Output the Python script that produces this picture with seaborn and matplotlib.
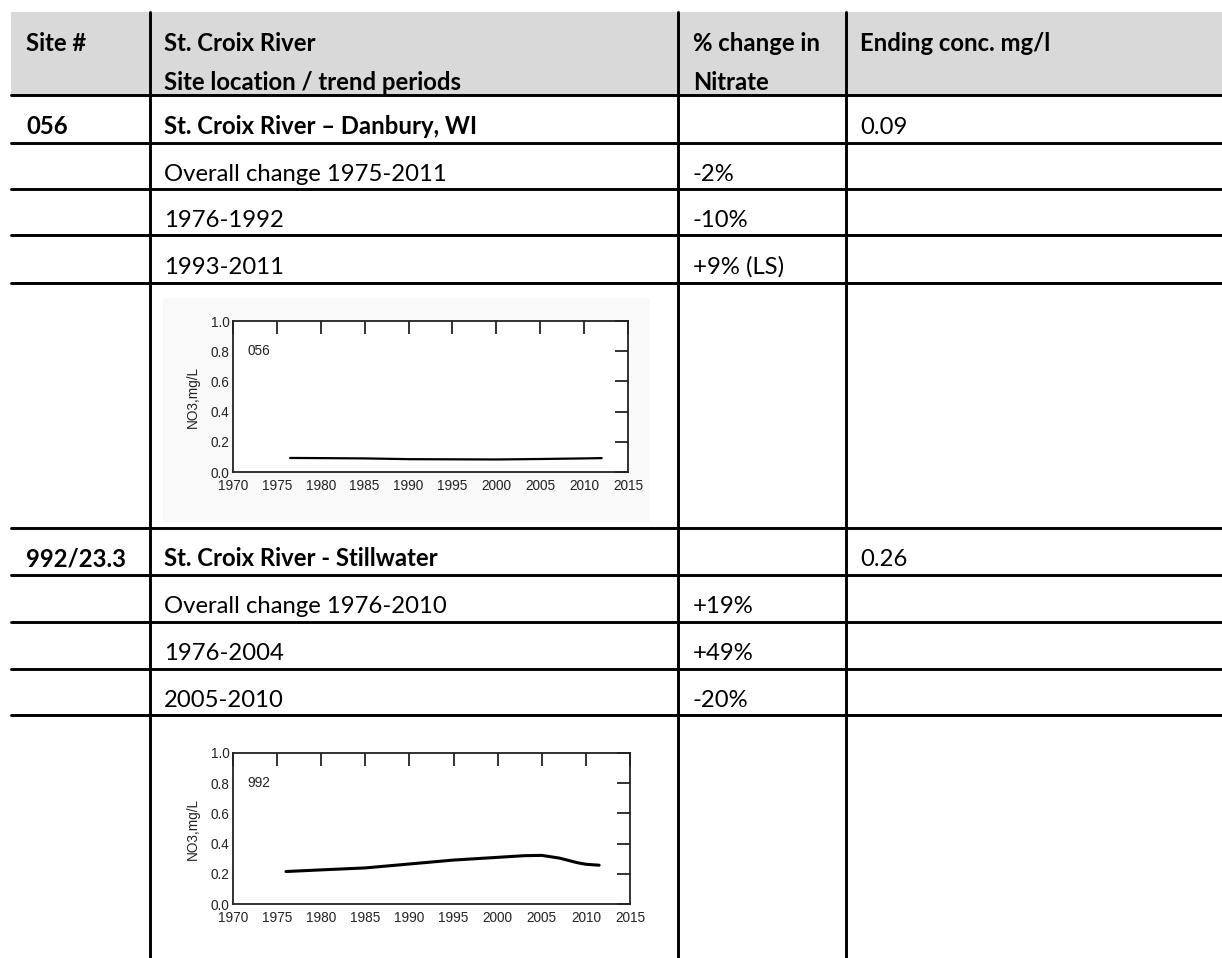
import matplotlib
matplotlib.use("Agg")
import matplotlib.pyplot as plt
import seaborn as sns
from matplotlib.patches import Rectangle
from matplotlib.lines import Line2D

# ---------------- data ----------------
header_col1 = ["Site #"]
header_col2 = ["St. Croix River", "Site location / trend periods"]
header_col3 = ["% change in", "Nitrate"]
header_col4 = ["Ending conc. mg/l"]

sites = ["056", "992/23.3"]
site_names = ["St. Croix River – Danbury, WI", "St. Croix River - Stillwater"]
ending_conc = ["0.09", "0.26"]

periods_056 = ["Overall change 1975-2011", "1976-1992", "1993-2011"]
changes_056 = ["-2%", "-10%", "+9% (LS)"]
periods_992 = ["Overall change 1976-2010", "1976-2004", "2005-2010"]
changes_992 = ["+19%", "+49%", "-20%"]

chart_labels = ["056", "992"]
years_056 = [1976.5, 1980, 1985, 1990, 1995, 2000, 2005, 2010, 2012]
no3_056 = [0.093, 0.092, 0.090, 0.085, 0.084, 0.083, 0.086, 0.090, 0.092]
years_992 = [1976, 1980, 1985, 1990, 1995, 2000, 2003, 2005, 2007, 2009, 2010, 2011.5]
no3_992 = [0.215, 0.226, 0.239, 0.265, 0.291, 0.309, 0.320, 0.322, 0.304, 0.274, 0.263, 0.257]

x_ticks = [1970, 1975, 1980, 1985, 1990, 1995, 2000, 2005, 2010, 2015]
y_ticks = [0.0, 0.2, 0.4, 0.6, 0.8, 1.0]
y_label = "NO3,mg/L"

# ---------------- layout (pixels) ----------------
W, H = 1222, 958
sns.set_theme(style="white")
plt.rcParams["font.family"] = ["Lato", "DejaVu Sans"]

fig = plt.figure(figsize=(W / 100, H / 100), dpi=100)
tab = fig.add_axes([0, 0, 1, 1])
tab.set_xlim(0, W)
tab.set_ylim(H, 0)
tab.axis("off")

LEFT, TOP = 11, 12
col_x = [150, 678, 846]
row_lines = [95, 143, 189, 235, 283, 528, 575, 622, 669, 715]
LW = 2.1
FS = 17.2
cap_half = 0.7165 * FS * 100 / 72 / 2
pad = 14
text_x = [LEFT + pad + 1, col_x[0] + pad, col_x[1] + pad + 1, col_x[2] + pad]

# header background
tab.add_patch(Rectangle((LEFT, TOP), W - LEFT, row_lines[0] - TOP,
                        facecolor="#d9d9d9", edgecolor="none", zorder=0))
# faint scan background around first chart
tab.add_patch(Rectangle((163, 298), 487, 224, facecolor="#f9f9f9",
                        edgecolor="none", zorder=0))

for x in col_x:
    tab.add_line(Line2D([x, x], [TOP, H], color="black", lw=LW, zorder=3))
for y in row_lines:
    tab.add_line(Line2D([LEFT, W], [y, y], color="black", lw=LW, zorder=3))


def put(x, cap_center, s, bold=False):
    tab.text(x, cap_center + cap_half, s, ha="left", va="baseline",
             fontsize=FS, fontweight="bold" if bold else "normal",
             color="black", zorder=4)


# header text
put(text_x[0], 42, header_col1[0], True)
put(text_x[1], 42, header_col2[0], True)
put(text_x[1], 81, header_col2[1], True)
put(text_x[2], 42, header_col3[0], True)
put(text_x[2], 81, header_col3[1], True)
put(text_x[3], 42, header_col4[0], True)

blocks = [(0, periods_056, changes_056), (5, periods_992, changes_992)]
for i, (r0, periods, changes) in enumerate(blocks):
    top, bot = row_lines[r0], row_lines[r0 + 1]
    cc = (top + bot) / 2 + 6
    put(text_x[0], cc, sites[i], True)
    put(text_x[1], cc, site_names[i], True)
    put(text_x[3], cc, ending_conc[i], False)
    for j, (p, c) in enumerate(zip(periods, changes)):
        top, bot = row_lines[r0 + 1 + j], row_lines[r0 + 2 + j]
        cc = (top + bot) / 2 + 6
        put(text_x[1], cc, p)
        put(text_x[2], cc, c)

# ---------------- small charts ----------------
chart_boxes = [(233, 628, 321, 472), (233, 630, 753, 904)]
series = [(years_056, no3_056, 1.6), (years_992, no3_992, 2.2)]
CFS = 9.8
CCOL = "#222222"

for (l, r, t, b), (xs, ys, lw), lab in zip(chart_boxes, series, chart_labels):
    ax = fig.add_axes([l / W, 1 - b / H, (r - l) / W, (b - t) / H])
    ax.set_facecolor("white")
    sns.lineplot(x=xs, y=ys, ax=ax, color="black", linewidth=lw)
    ax.set_xlim(1970, 2015)
    ax.set_ylim(0, 1)
    ax.set_xticks(x_ticks)
    ax.set_xticklabels([str(v) for v in x_ticks])
    ax.set_yticks(y_ticks)
    ax.set_yticklabels([f"{v:.1f}" for v in y_ticks])
    ax.tick_params(axis="both", direction="in", length=9.5, width=1.3,
                   top=True, right=True, labelsize=CFS, colors=CCOL,
                   labelfontfamily="Liberation Sans")
    ax.tick_params(axis="x", pad=5.0)
    ax.tick_params(axis="y", pad=2.5)
    for s in ax.spines.values():
        s.set_linewidth(1.3)
        s.set_color(CCOL)
        s.set_visible(True)
    ax.set_ylabel(y_label, fontsize=CFS, color=CCOL, family="Liberation Sans")
    ax.yaxis.set_label_coords(-0.083, 0.5)
    ax.text(1971.6, 0.8, lab, ha="left", va="center", fontsize=CFS,
            color=CCOL, family="Liberation Sans")
    ax.grid(False)

fig.savefig("out.png", dpi=100)
